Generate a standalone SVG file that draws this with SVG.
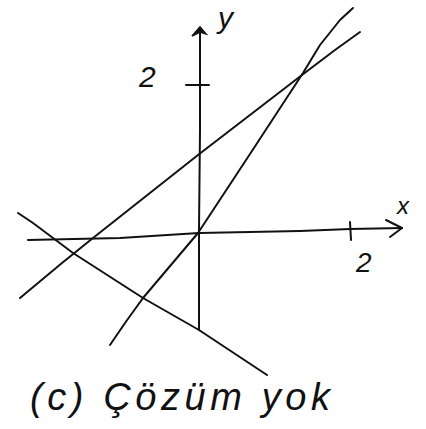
<svg xmlns="http://www.w3.org/2000/svg" width="426" height="429" viewBox="0 0 426 429">
<style>
.ln{fill:none;stroke:#111;stroke-width:2;stroke-linecap:round;stroke-linejoin:round}
.t{font-family:"Liberation Sans",sans-serif;fill:#111;font-style:italic}
</style>
<rect width="426" height="429" fill="#fff"/>
<g id="axes">
<polyline class="ln" points="200,30 200,130 199,230 199,330"/>
<polygon points="192,36 200,27 206,34 200,32" fill="#111" stroke="#111" stroke-width="1.5"/>
<line class="ln" x1="186" y1="85" x2="209" y2="85"/>
<polyline class="ln" points="28,240 120,238 199,233 300,231 350,229 402,228"/>
<polyline class="ln" points="386,220 402,228 390,237"/>
<line class="ln" x1="350" y1="222" x2="351" y2="240"/>
</g>
<g id="lines">
<polyline class="ln" points="20,298 62,263 93,238 198,155 250,115 302,75 335,50 360,32"/>
<polyline class="ln" points="110,345 125,323 143,298 198,233 250,154 303,73 320,45 340,20 353,8"/>
<polyline class="ln" points="18,213 33,223 73,253 143,298 199,330 267,375"/>
</g>
<g id="labels">
<text class="t" x="218" y="28" font-size="30">y</text>
<text class="t" x="139" y="87" font-size="30">2</text>
<text class="t" x="397" y="214" font-size="24">x</text>
<text class="t" x="356" y="272" font-size="28">2</text>
<text class="t" x="30" y="410" font-size="38" textLength="300" lengthAdjust="spacing">(c) Çözüm yok</text>
</g>
</svg>
